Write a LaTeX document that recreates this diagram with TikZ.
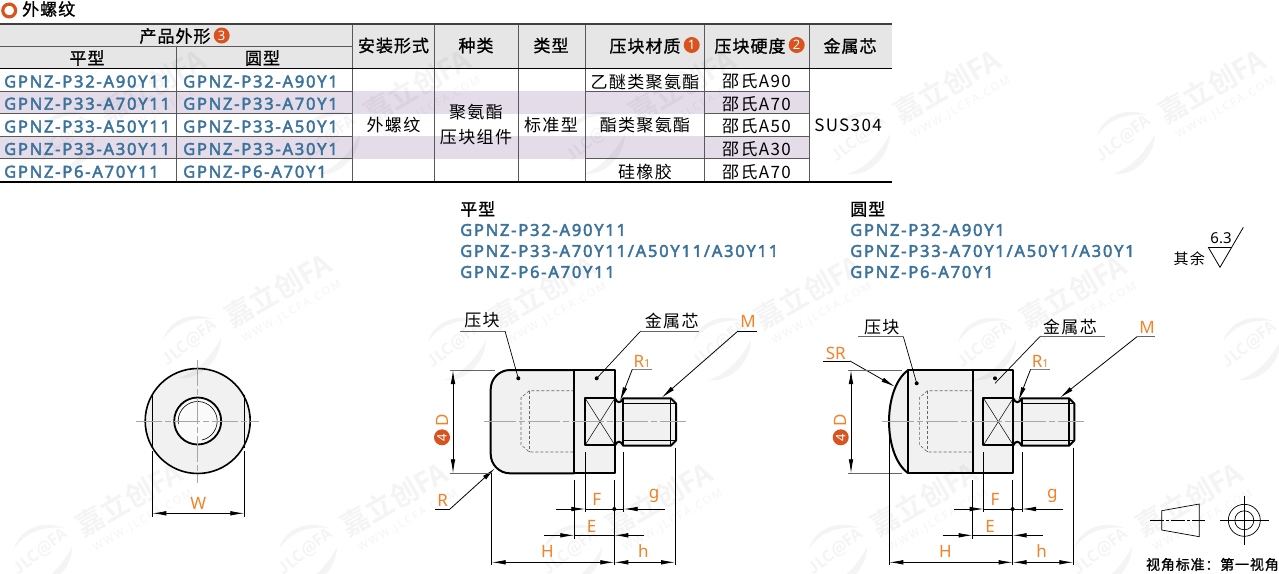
\documentclass[tikz,border=0pt]{standalone}
\usepackage{fontspec}
\usetikzlibrary{arrows.meta}
\setmainfont{Noto Sans}
\newfontfamily\cjkfont[LetterSpace=8]{Noto Sans CJK SC}
\newfontfamily\headfont[LetterSpace=6,FakeBold=1]{Noto Sans CJK SC}
\newfontfamily\partfont[LetterSpace=10.7,FakeBold=2.6]{Noto Sans}
\newfontfamily\wmfont{Noto Sans CJK SC Bold}
\definecolor{headgray}{HTML}{E6E6E6}
\definecolor{rowpurple}{HTML}{E5DCEA}
\definecolor{partblue}{HTML}{3B739C}
\definecolor{dotorange}{HTML}{D9531E}
\definecolor{dimorange}{HTML}{F08228}
\definecolor{partgray}{HTML}{F1F1F1}
\tikzset{
    cell/.style={font=\cjkfont\fontsize{17}{18}\selectfont,inner sep=0pt},
    headcell/.style={font=\headfont\fontsize{17}{18}\selectfont,inner sep=0pt},
    partno/.style={font=\partfont\fontsize{16.5}{18}\selectfont,text=partblue,inner sep=0pt,anchor=west},
    numdot/.style={circle,fill=dotorange,text=white,font=\fontsize{13}{13}\selectfont\bfseries,inner sep=0pt,minimum size=16pt},
    dimtext/.style={font=\fontsize{17}{17}\selectfont,text=dimorange,inner sep=0pt},
    outline/.style={line width=2pt,line join=round},
    thin line/.style={line width=0.7pt},
    gridline/.style={line width=0.9pt,draw=black!65},
    centerline/.style={line width=0.6pt,draw=black!35,dash pattern=on 32pt off 3pt on 6pt off 3pt},
    dimline/.style={line width=0.8pt,{Latex[length=14pt,width=4.6pt]}-{Latex[length=14pt,width=4.6pt]}},
    oneway/.style={line width=0.8pt,-{Latex[length=14pt,width=4.6pt]}},
    wmmark/.style={opacity=0.045}
}
% parts that both side views share, left end of the core at x=574.3
\newcommand{\corepart}{
    \fill[partgray] (574.3,370) rectangle (615,473.3);
    \fill[partgray] (615,398.3) rectangle (676,445.7);
    % socket in the rubber
    \draw[line width=0.6pt,densely dashed,black!60] (574.3,390.7) -- (529.3,390.7) -- (521,397.7) -- (521,444.7) -- (529.3,452) -- (574.3,452);
    \draw[line width=0.6pt,densely dashed,black!60] (529.3,390.7) -- (529.3,452);
    % square part
    \draw[outline] (585,398) rectangle (615,445.3);
    \draw[line width=0.5pt] (585,398) -- (615,445.3);
    \draw[line width=0.5pt] (585,445.3) -- (615,398);
    % neck and thread
    \draw[outline] (615,398.3) .. controls (617,403.5) and (621,403.5) .. (623.3,398.3) -- (670.7,398.3) -- (676,403.5) -- (676,440.5) -- (670.7,445.7) -- (623.3,445.7) .. controls (621,440.5) and (617,440.5) .. (615,445.3);
    \draw[outline] (623.3,398.3) -- (623.3,445.7);
    \draw[line width=1.1pt] (670.7,398.3) -- (670.7,445.7);
    \draw[line width=0.5pt] (623.3,403) -- (676,403);
    \draw[line width=0.5pt] (623.3,440.5) -- (676,440.5);
    \draw[outline] (574.3,370) -- (615,370) -- (615,473.3) -- (574.3,473.3);
    \draw[outline] (574.3,370) -- (574.3,473.3);
    % R1 leader
    \node[dimtext] (rone\sx) at (642,361.7) {R\fontsize{11}{11}\selectfont 1};
    \draw[thin line,draw=black!50] (632.3,369.3) -- (651.7,369.3);
    \draw[oneway] (632.3,369.3) -- (620,401);
    \fill (596.7,378.3) circle (2);
    % lower dimensions
    \draw[thin line] (585.3,452.3) -- (585.3,512);
    \draw[thin line] (623.7,452.3) -- (623.7,512);
    \draw[thin line] (574.3,480) -- (574.3,539);
    \draw[line width=1.1pt] (614.3,480) -- (614.3,565);
    \draw[thin line] (675,447.7) -- (675,565);
    \draw[oneway] (555.7,509) -- (585.3,509);
    \draw[oneway] (665,509) -- (623.7,509);
    \draw[line width=0.8pt] (585.3,509) -- (623.7,509);
    \fill (614.3,509) circle (2);
    \draw[oneway] (544.3,535.3) -- (574.3,535.3);
    \draw[oneway] (644.3,535.3) -- (614.3,535.3);
    \draw[line width=0.8pt] (574.3,535.3) -- (614.3,535.3);
    \draw[dimline] (614.3,562.3) -- (675,562.3);
    \node[dimtext] (fdim\sx) at (596.7,499) {F};
    \node[dimtext] (gdim\sx) at (654,496) {g};
    \node[dimtext] (edim\sx) at (591.7,526.7) {E};
    \node[dimtext] (smallh\sx) at (643.3,551) {h};
}
\newcommand{\wmunit}{
    \fill[wmmark] (-27,-3) .. controls (-22,-22) and (0,-33) .. (23,-24) .. controls (2,-26) and (-16,-20) .. cycle;
    \fill[wmmark] (31,-5) .. controls (31,15) and (12,38) .. (-12,35) .. controls (8,30) and (23,10) .. cycle;
    \node[wmmark,rotate=38,font=\wmfont\fontsize{16}{16}\selectfont] at (0,0) {JLC@FA};
    \node[wmmark,rotate=30,font=\wmfont\fontsize{28}{28}\selectfont] at (88,-53) {嘉立创FA};
    \node[wmmark,rotate=30,font=\fontsize{11}{12}\selectfont\addfontfeature{LetterSpace=18}] at (102,-31) {WWW.JLCFA.COM};
}

\begin{document}
\begin{tikzpicture}[x=1pt,y=-1pt]
    \useasboundingbox (0,0) rectangle (1279,573);
    % title
    \draw[line width=3.2pt,draw=dotorange] (9.2,10.5) circle (6.4);
    \node[headcell,anchor=west] (title) at (22,9) {外螺纹};

    % table fills
    \fill[headgray] (0,24) rectangle (892,68.5);
    \fill[rowpurple] (0,91) rectangle (809,113.5);
    \fill[rowpurple] (0,136) rectangle (809,158.5);

    % table lines
    \draw[gridline] (0,46) -- (352,46);
    \foreach \rowy in {91,113.5,136,158.5} {
        \draw[gridline] (0,\rowy) -- (352,\rowy);
    }
    \draw[gridline] (585,91) -- (809,91);
    \draw[gridline] (704,113.5) -- (809,113.5);
    \draw[gridline] (704,136) -- (809,136);
    \draw[gridline] (585,158.5) -- (809,158.5);
    \draw[gridline] (176,46) -- (176,182);
    \foreach \colx in {352,434.5,518,585,704,809} {
        \draw[gridline] (\colx,24) -- (\colx,182);
    }
    \draw[line width=1.5pt,draw=black!75] (0,24) -- (892,24);
    \draw[line width=1.2pt] (0,68.5) -- (892,68.5);
    \draw[line width=1.2pt] (0,182) -- (892,182);

    % table header
    \node[headcell] (shape) at (175,36) {产品外形};
    \node[numdot] (dot3) at (221.7,35.5) {3};
    \node[headcell] (flat) at (87,58) {平型};
    \node[headcell] (round) at (262.5,58) {圆型};
    \node[headcell] (mount) at (393.5,45.5) {安装形式};
    \node[headcell] (kind) at (476,45.5) {种类};
    \node[headcell] (type) at (551,45.5) {类型};
    \node[headcell] (material) at (645,46) {压块材质};
    \node[numdot] (dot1) at (691.7,45) {1};
    \node[headcell] (hardness) at (750,46) {压块硬度};
    \node[numdot] (dot2) at (796.7,45) {2};
    \node[headcell] (core) at (850,46) {金属芯};

    % table body
    \foreach \i/\rowy/\code in {1/81.5/P32-A90,2/103.7/P33-A70,3/126.5/P33-A50,4/149/P33-A30,5/171.7/P6-A70} {
        \node[partno] (flat\i) at (4,\rowy) {GPNZ-\code Y11};
        \node[partno] (round\i) at (183,\rowy) {GPNZ-\code Y1};
    }
    \foreach \i/\rowy/\hard in {1/81.5/A90,2/103.7/A70,3/126.5/A50,4/149/A30,5/171.7/A70} {
        \node[cell] (hard\i) at (756.5,\rowy) {邵氏\hard};
    }
    \node[cell] (mountval) at (393.5,125) {外螺纹};
    \node[cell] (kindtop) at (476,112.5) {聚氨酯};
    \node[cell] (kindlow) at (476,137) {压块组件};
    \node[cell] (typeval) at (551,125) {标准型};
    \node[cell] (mat1) at (645,82) {乙醚类聚氨酯};
    \node[cell] (mat2) at (645,125) {酯类聚氨酯};
    \node[cell] (mat3) at (645,172) {硅橡胶};
    \node[cell] (coreval) at (848,125) {SUS304};

    % captions over the views
    \node[headcell,anchor=west] (flatcap) at (460,209) {平型};
    \node[partno] (flatcap1) at (460,230) {GPNZ-P32-A90Y11};
    \node[partno] (flatcap2) at (460,251) {GPNZ-P33-A70Y11/A50Y11/A30Y11};
    \node[partno] (flatcap3) at (460,272) {GPNZ-P6-A70Y11};
    \node[headcell,anchor=west] (roundcap) at (850,209) {圆型};
    \node[partno] (roundcap1) at (850,230) {GPNZ-P32-A90Y1};
    \node[partno] (roundcap2) at (850,251) {GPNZ-P33-A70Y1/A50Y1/A30Y1};
    \node[partno] (roundcap3) at (850,272) {GPNZ-P6-A70Y1};

    % roughness mark
    \node[cell,font=\cjkfont\fontsize{15}{15}\selectfont] (rest) at (1189.3,258.3) {其余};
    \node[inner sep=0pt,font=\fontsize{15}{15}\selectfont] (rough) at (1221,238.5) {6.3};
    \draw[line width=0.8pt] (1208.3,247.3) -- (1231.7,247.3);
    \draw[line width=0.8pt] (1208.3,247.3) -- (1220,267.3) -- (1243.3,227.3);

    % end view
    \fill[partgray] (197.7,421) circle (52.5);
    \draw[line width=1.6pt] (197.7,421) circle (52.5);
    \draw[line width=1.6pt] (152.3,394.5) -- (152.3,447.5);
    \draw[line width=1.6pt] (244.3,394.5) -- (244.3,447.5);
    \fill[black!2] (197.7,421) circle (23.5);
    \draw[line width=1.8pt] (197.7,421) circle (23.5);
    \draw[line width=0.6pt] (197.7,421) ++(171:19.5) arc (171:438:19.5);
    \draw[line width=0.6pt,draw=black!35,dash pattern=on 26pt off 3pt on 6pt off 3pt] (136,421) -- (259,421);
    \draw[line width=0.6pt,draw=black!35,dash pattern=on 26pt off 3pt on 6pt off 3pt] (197.7,360) -- (197.7,483);
    \draw[thin line] (152.3,451) -- (152.3,516.7);
    \draw[thin line] (244.3,451) -- (244.3,516.7);
    \draw[dimline] (152.3,513.3) -- (244.3,513.3);
    \node[dimtext] (wdim) at (198.3,503.3) {W};

    % flat body, the rest comes from \corepart
    \fill[partgray] (574.3,370) -- (510,370) arc (270:180:19.3) -- (490.7,454) arc (180:90:19.3) -- (574.3,473.3) -- cycle;
    \draw[outline] (574.3,370) -- (510,370) arc (270:180:19.3) -- (490.7,454) arc (180:90:19.3) -- (574.3,473.3);
    % round body
    \fill[partgray] (908.3,370) .. controls (882.6,388) and (882.6,455) .. (908.3,473.3) -- (973,473.3) -- (973,370) -- cycle;
    \draw[outline] (908.3,370) .. controls (882.6,388) and (882.6,455) .. (908.3,473.3);
    \draw[outline] (973,370) -- (908.3,370) -- (908.3,473.3) -- (973,473.3);

    \foreach \sx in {0,398.3} {
        \begin{scope}[xshift=\sx pt]
            \corepart
            \draw[centerline] (484,421) -- (686,421);
        \end{scope}
    }

    % flat view labels
    \node[cell] (padl) at (482,320.5) {压块};
    \draw[thin line,draw=black!60] (460,331) -- (505,331);
    \draw[thin line] (505,331) -- (518.3,378.3);
    \fill (518.3,378.3) circle (2);
    \node[cell] (corel) at (671.7,321) {金属芯};
    \draw[thin line,draw=black!60] (640.7,331) -- (699,331);
    \draw[thin line] (640.7,331) -- (596.7,378.3);
    \node[dimtext] (mdim) at (748,321) {M};
    \draw[thin line] (738,331) -- (757,331);
    \draw[oneway] (738,331) -- (661.7,397.7);
    \node[dimtext] (rdim) at (442.7,500) {R};
    \draw[thin line] (435,509) -- (450,509);
    \draw[oneway] (450,509) -- (495,468.3);
    \draw[thin line,draw=black!60] (450,370) -- (495,370);
    \draw[thin line,draw=black!60] (450,473.3) -- (492,473.3);
    \draw[dimline] (453,370) -- (453,473.3);
    \node[numdot,rotate=90] (dot4a) at (442,437.3) {4};
    \node[dimtext,rotate=90] (ddima) at (442,420) {D};
    \draw[thin line] (491.7,473) -- (491.7,565);
    \draw[dimline] (491.7,562.3) -- (614.3,562.3);
    \node[dimtext] (hdima) at (547.3,551) {H};

    % round view labels
    \node[cell] (padr) at (881.7,326.7) {压块};
    \draw[thin line,draw=black!60] (858.3,336.5) -- (903.3,336.5);
    \draw[thin line] (903.3,336.5) -- (916.7,383.3);
    \fill (916.7,383.3) circle (2);
    \node[cell] (corer) at (1070,326.7) {金属芯};
    \draw[thin line,draw=black!60] (1040,336.5) -- (1105,336.5);
    \draw[thin line] (1040,336.5) -- (995,383.3);
    \node[dimtext] (mdimr) at (1147,327.5) {M};
    \draw[thin line,draw=black!60] (1137,336.7) -- (1155,336.7);
    \draw[oneway] (1137,336.7) -- (1060,397.7);
    \node[dimtext] (srdim) at (835.7,353.3) {SR};
    \draw[thin line] (823.3,361) -- (850,361);
    \draw[oneway] (850,361) -- (895,386.7);
    \draw[thin line,draw=black!60] (847.7,370) -- (901.7,370);
    \draw[thin line,draw=black!60] (847.7,473.3) -- (901.7,473.3);
    \draw[dimline] (851,370) -- (851,473.3);
    \node[numdot,rotate=90] (dot4b) at (840.7,437.3) {4};
    \node[dimtext,rotate=90] (ddimb) at (840.7,420) {D};
    \draw[thin line] (889.3,425) -- (889.3,565);
    \draw[dimline] (889.3,562.3) -- (1012.6,562.3);
    \node[dimtext] (hdimb) at (945.3,551) {H};

    % projection symbol
    \draw[line width=0.7pt] (1161.7,510.7) -- (1199.3,504) -- (1199.3,536.7) -- (1161.7,530) -- cycle;
    \draw[line width=0.6pt,dash pattern=on 14pt off 2pt on 3pt off 2pt] (1150,520.3) -- (1205,520.3);
    \draw[line width=0.7pt] (1244.3,520.3) circle (16);
    \draw[line width=0.7pt] (1244.3,520.3) circle (9.5);
    \draw[line width=0.6pt] (1220,520.3) -- (1269,520.3);
    \draw[line width=0.6pt] (1244.3,496) -- (1244.3,545);
    \node[headcell,font=\headfont\fontsize{14}{14}\selectfont,anchor=east] (viewstd) at (1279,564.5) {视角标准：第一视角};

    % watermark
    \foreach \wx/\wy in {64/139,329/139,594/139,859/139,1124/139,
        190/343,455/345,720/345,985/345,1250/345,
        41/552,306/552,571/552,836/552,1101/552} {
        \begin{scope}[shift={(\wx,\wy)}]
            \wmunit
        \end{scope}
    }
\end{tikzpicture}
\end{document}
